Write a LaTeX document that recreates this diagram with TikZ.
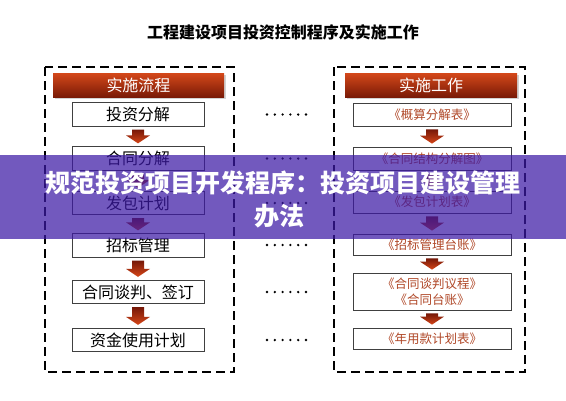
\documentclass[tikz,border=0pt]{standalone}
\usepackage{fontspec}
\setmainfont{Noto Sans CJK SC}
\usepackage{xcolor}
\usepackage{tikz}
\usetikzlibrary{calc}
\usetikzlibrary{shadows}
\definecolor{hdrtop}{RGB}{212,72,26}
\definecolor{hdrbot}{RGB}{122,26,6}
\definecolor{arrtop}{RGB}{118,24,8}
\definecolor{arrbot}{RGB}{214,70,24}
\definecolor{doctext}{RGB}{176,72,40}
\definecolor{bandpurple}{RGB}{60,25,165}
% block arrow from the bottom of one box to the top of the next
\newcommand\flowarrow[2]{%
  \path[flowarr] let \p1=(#1.south), \p2=(#2.north) in
    (\x1-6pt,\y1-3pt) -- (\x1+6pt,\y1-3pt) -- (\x1+6pt,\y2+11pt) -- (\x1+12pt,\y2+11pt)
    -- (\x1,\y2+3pt) -- (\x1-12pt,\y2+11pt) -- (\x1-6pt,\y2+11pt) -- cycle;}

\begin{document}
\begin{tikzpicture}[x=1pt,y=-1pt,
  frame/.style={draw=black,line width=1.8pt,dash pattern=on 9pt off 5pt},
  hdr/.style={top color=hdrtop,bottom color=hdrbot,text=white,minimum height=24pt,inner sep=0pt,
    font=\fontsize{16pt}{18pt}\selectfont,drop shadow={opacity=0.35,shadow xshift=1.5pt,shadow yshift=-1.5pt}},
  stepL/.style={draw=black!75,line width=0.7pt,fill=white,minimum width=132pt,minimum height=23.5pt,
    inner sep=0pt,font=\fontsize{16pt}{18pt}\selectfont},
  stepR/.style={draw=black!75,line width=0.7pt,fill=white,minimum width=158pt,minimum height=22pt,
    inner sep=0pt,text=doctext,align=center,font=\fontsize{12.5pt}{16pt}\selectfont},
  flowarr/.style={top color=arrtop,bottom color=arrbot},
]
\useasboundingbox (0,0) rectangle (566,400);
\node[font=\bfseries\fontsize{16pt}{18pt}\selectfont](title) at(283,32){工程建设项目投资控制程序及实施工作};
\draw[frame](45,67) rectangle (234,372);
\draw[frame](334,67) rectangle (525,372);
% left column
\node[hdr,minimum width=171pt](lh) at(138.5,85){实施流程};
\node[stepL](l1) at(138,114.5){投资分解};
\node[stepL](l2) at(138,158.5){合同分解};
\node[stepL](l3) at(138,203){发包计划};
\node[stepL](l4) at(138,245.5){招标管理};
\node[stepL](l5) at(138,292){合同谈判、签订};
\node[stepL](l6) at(138,340){资金使用计划};
% right column
\node[hdr,minimum width=172pt](rh) at(431,85){实施工作};
\node[stepR,minimum height=23pt](r1) at(432,114.5){《概算分解表》};
\node[stepR,minimum height=23pt](r2) at(432,158.5){《合同结构分解图》};
\node[stepR](r3) at(432,202){《发包计划表》};
\node[stepR,minimum height=21pt](r4) at(432,244.5){《招标管理台账》};
\node[stepR,minimum height=37pt](r5) at(432,291.5){《合同谈判议程》\\《合同台账》};
\node[stepR,minimum height=21pt](r6) at(432,338.5){《年用款计划表》};
\flowarrow{l1}{l2} \flowarrow{l2}{l3} \flowarrow{l3}{l4} \flowarrow{l4}{l5} \flowarrow{l5}{l6}
\flowarrow{r1}{r2} \flowarrow{r2}{r3} \flowarrow{r3}{r4} \flowarrow{r4}{r5} \flowarrow{r5}{r6}
% dots between the columns
\foreach \y in {114.5,158.5,203,245,292,340}
  \foreach \i in {0,...,5}
    \fill (267+7.8*\i,\y) circle (1.3pt);
% banner across the middle
\fill[bandpurple,opacity=0.72] (0,155) rectangle (566,239);
\node[text=white,font=\bfseries\fontsize{25pt}{28pt}\selectfont](ban1) at(283,183){规范投资项目开发程序：投资项目建设管理};
\node[text=white,font=\bfseries\fontsize{25pt}{28pt}\selectfont](ban2) at(279,216){办法};
\end{tikzpicture}
\end{document}
